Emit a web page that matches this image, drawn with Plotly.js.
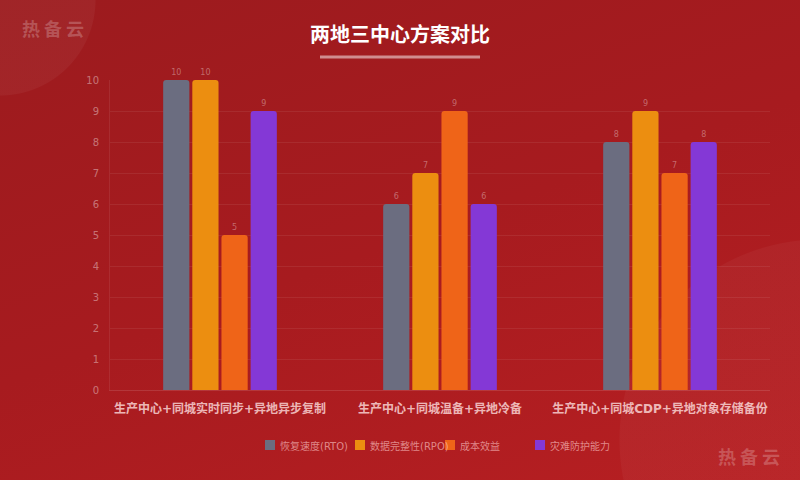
<!DOCTYPE html>
<html><head><meta charset="utf-8">
<script src="https://cdn.plot.ly/plotly-3.0.1.min.js"></script>
<style>
html,body{margin:0;padding:0;width:800px;height:480px;overflow:hidden;}
body{background:
 radial-gradient(circle at 0px 0px, rgba(255,255,255,0.045) 0, rgba(255,255,255,0.045) 95px, rgba(255,255,255,0) 96px),
 radial-gradient(circle at 820px 440px, rgba(255,255,255,0.035) 0, rgba(255,255,255,0.035) 200px, rgba(255,255,255,0) 201px),
 linear-gradient(160deg,#9c1b1e 0%,#a71b1f 50%,#b71f22 100%);
 font-family:"Noto Sans CJK SC",sans-serif;}
#chart{width:800px;height:480px;}
.wm{position:absolute;font-family:"Noto Sans CJK SC";font-weight:bold;font-size:18px;color:rgba(255,255,255,0.22);letter-spacing:4px;}
</style></head><body>
<div class="wm" style="left:22px;top:15px;">热备云</div>
<div class="wm" style="left:718px;top:443px;">热备云</div>
<div id="chart" style="position:absolute;left:0;top:0;"></div>
<script>
const categories = ["生产中心+同城实时同步+异地异步复制","生产中心+同城温备+异地冷备","生产中心+同城CDP+异地对象存储备份"];
const seriesNames = ["恢复速度(RTO)","数据完整性(RPO)","成本效益","灾难防护能力"];
const rto = [10,6,8];
const rpo = [10,7,9];
const cost = [5,9,7];
const protect = [9,6,8];
const colors = ["#6b6d80","#ec8e10","#ef6418","#8438d6"];
const yTicks = [0,1,2,3,4,5,6,7,8,9,10];

const FONT = 'DejaVu Sans, Noto Sans CJK SC, sans-serif';
const values=[rto,rpo,cost,protect];
const traces = values.map((v,i)=>({
  type:'bar', name:seriesNames[i], x:categories, y:v,
  marker:{color:colors[i]},
  text:v.map(String), textposition:'outside', cliponaxis:false,
  textfont:{size:8,color:'rgba(255,255,255,0.35)',family:FONT}
}));

// legend drawn as paper-positioned swatches + labels (fixed 90px entries)
const L=110, PW=660, B=390, PH=310;
const px=x=>(x-L)/PW, py=y=>(B-y)/PH;
const legendShapes = seriesNames.map((n,i)=>({type:'rect',xref:'paper',yref:'paper',
  x0:px(265+90*i),x1:px(275+90*i),y0:py(450),y1:py(440),
  line:{width:0},fillcolor:colors[i],layer:'above'}));
const legendAnn = seriesNames.map((n,i)=>({xref:'paper',yref:'paper',x:px(278+90*i),y:py(446.5),
  xanchor:'left',yanchor:'middle',showarrow:false,text:n,
  font:{size:10,color:'rgba(255,205,205,0.62)',family:FONT}}));

const layout={
  width:800,height:480,
  paper_bgcolor:'rgba(0,0,0,0)',plot_bgcolor:'rgba(0,0,0,0)',
  margin:{l:110,r:30,t:80,b:90},
  font:{family:FONT,color:'rgba(255,255,255,0.4)'},
  title:{text:'两地三中心方案对比',x:0.5,xanchor:'center',y:0.927,yanchor:'middle',
    font:{size:20,color:'#ffffff',family:'Noto Sans CJK SC',weight:'bold'}},
  barmode:'group',bargap:0.47,bargroupgap:0.1,barcornerradius:3,
  xaxis:{tickfont:{size:12,color:'rgba(255,225,225,0.8)',family:FONT,weight:'bold'},
    showline:true,linecolor:'rgba(255,255,255,0.12)',linewidth:1,ticks:'',ticklabelstandoff:8,fixedrange:true},
  yaxis:{range:[0,10],tickvals:yTicks,tickfont:{size:10,color:'rgba(255,255,255,0.4)',family:FONT},
    gridcolor:'rgba(255,255,255,0.07)',showline:true,linecolor:'rgba(255,255,255,0.08)',
    zeroline:false,ticks:'',ticklen:0,ticklabelstandoff:8,fixedrange:true},
  showlegend:false,
  annotations:legendAnn,
  shapes:[{type:'line',xref:'paper',yref:'paper',x0:px(320),x1:px(480),
    y0:py(57),y1:py(57),line:{color:'rgba(255,255,255,0.5)',width:3}}].concat(legendShapes)
};
Plotly.newPlot('chart',traces,layout,{displayModeBar:false,staticPlot:true});
</script></body></html>
